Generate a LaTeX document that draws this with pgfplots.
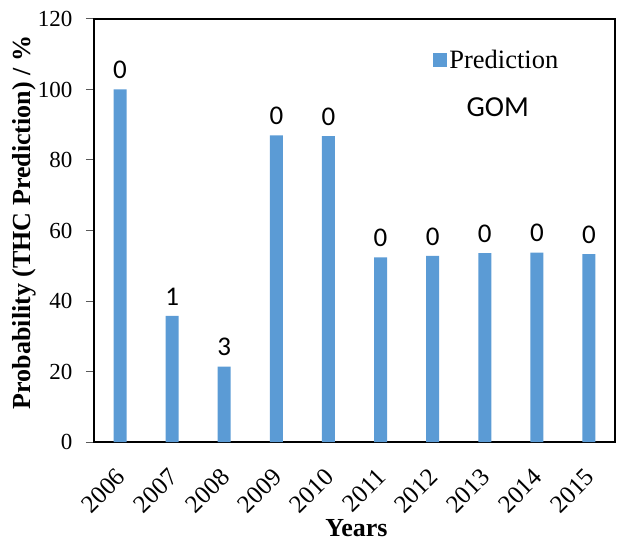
\documentclass[border=0pt]{standalone}
\usepackage{fontspec}
\setmainfont{Liberation Serif}
\newfontfamily\calibri{Carlito}
\usepackage{pgfplots}
\pgfplotsset{compat=1.18}
\definecolor{barblue}{RGB}{91,155,213}
\begin{document}
\begin{tikzpicture}
\path[use as bounding box] (-94pt,-99pt) rectangle (524pt,442pt);
\begin{axis}[
  at={(0pt,0pt)}, anchor=south west,
  scale only axis, width=521pt, height=423pt,
  xmin=-0.5, xmax=9.5, ymin=0, ymax=120,
  ytick={0,20,...,120},
  xtick={0,...,9},
  xticklabels={2006,2007,2008,2009,2010,2011,2012,2013,2014,2015},
  /pgf/number format/assume math mode=true,
  xticklabel style={font=\fontsize{25}{27}\selectfont, xshift=-5pt, yshift=-12pt, rotate=45, anchor=north east},
  yticklabel style={font=\fontsize{23}{25}\selectfont, xshift=-10pt},
  x tick style={draw=none},
  y tick style={draw=gray!70!black, line width=1pt},
  tick align=outside, ytick pos=left, xtick pos=bottom,
  major tick length=8pt,
  axis line style={line width=2pt, black},
  xlabel={\textbf{Years}},
  xlabel style={at={([xshift=2pt,yshift=-86pt]axis description cs:0.5,0)}, anchor=center, font=\fontsize{26}{28}\selectfont},
  ylabel={\textbf{Probability (THC Prediction) / \%}},
  ylabel style={at={([xshift=-70pt,yshift=8pt]axis description cs:0,0.5)}, anchor=center, rotate=0, font=\fontsize{26}{28}\selectfont},
  ybar, bar width=13pt,
  point meta=explicit symbolic,
  nodes near coords,
  nodes near coords style={font=\calibri\fontsize{27}{29}\selectfont, anchor=south, yshift=7pt},
  legend style={at={(axis description cs:0.651,0.904)}, anchor=west, draw=none, fill=none,
    font=\fontsize{26.5}{28}\selectfont, inner sep=0pt},
  legend image code/.code={\fill[barblue] (0pt,-7pt) rectangle (14pt,7pt);},
  legend cell align=left,
]
\addplot[fill=barblue, draw=none] coordinates {
  (0,100)[0] (1,35.8)[1] (2,21.4)[3] (3,87.0)[0] (4,86.8)[0]
  (5,52.4)[0] (6,52.8)[0] (7,53.6)[0] (8,53.7)[0] (9,53.3)[0]
};
\addlegendentry{Prediction}
\node[font=\calibri\fontsize{29}{31}\selectfont] at (axis description cs:0.775,0.792) {GOM};
\end{axis}
\end{tikzpicture}
\end{document}
